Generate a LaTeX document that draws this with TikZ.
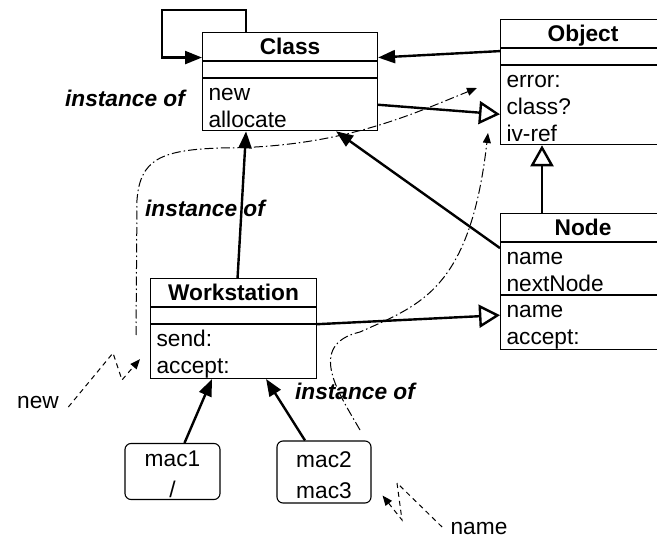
\documentclass[tikz,border=0pt]{standalone}
\usepackage{fontspec}
\setmainfont{Liberation Sans}
\usetikzlibrary{positioning,arrows.meta}

\newcommand\umlfont{\fontsize{22.7pt}{27pt}\selectfont}
\newcommand\umlstrut{\rule[-3pt]{0pt}{24pt}}
\newcommand\macstrut{\rule[-2pt]{0pt}{25pt}}

\tikzset{
    classhead/.style={draw, line width=1.1pt, font=\umlfont\bfseries, align=center, inner xsep=0pt, inner ysep=3pt, text height=19pt, text depth=3pt},
    classattr/.style={draw, line width=1.1pt, minimum height=16pt, inner sep=0pt},
    classops/.style={draw, line width=1.1pt, font=\umlfont, align=left, inner xsep=6pt, inner ysep=0.5pt},
    macbox/.style={draw, line width=1.1pt, rounded corners=6pt, font=\fontsize{22.7pt}{31pt}\selectfont, align=center, minimum width=95pt, inner ysep=0pt},
    instlabel/.style={font=\umlfont\bfseries\itshape, anchor=base},
    plainlabel/.style={font=\umlfont, anchor=base},
    assoc/.style={line width=2.4pt, -{Triangle[length=17pt,width=13pt]}},
    inherit/.style={line width=2.4pt, -{Triangle[open,length=21pt,width=23pt]}},
    instarrow/.style={line width=1pt, dash pattern=on 9pt off 3pt on 1.5pt off 3pt, -{Triangle[length=10pt,width=8pt]}},
    hint/.style={line width=1pt, dash pattern=on 5pt off 4pt, -{Triangle[length=10pt,width=8pt]}}
}

\begin{document}
\begin{tikzpicture}[x=1pt, y=-1pt]
    \useasboundingbox (0,0) rectangle (657,540);

    % Class
    \node[classhead, text width=175pt, anchor=north west] (cls) at (202,32) {Class};
    \node[classattr, minimum width=175pt, below=0pt of cls] (clsattr) {};
    \node[classops, text width=163pt, below=0pt of clsattr] (clsops) {\umlstrut new\\allocate\umlstrut};

    % Object
    \node[classhead, text width=165pt, anchor=north west] (obj) at (500,19) {Object};
    \node[classattr, minimum width=165pt, below=0pt of obj] (objattr) {};
    \node[classops, text width=153pt, below=0pt of objattr] (objops) {\umlstrut error:\\class?\\iv-ref\umlstrut};

    % Node
    \node[classhead, text width=165pt, anchor=north west] (nd) at (500,213) {Node};
    \node[classops, text width=153pt, below=0pt of nd] (ndattr) {\umlstrut name\\nextNode\umlstrut};
    \node[classops, text width=153pt, below=0pt of ndattr] (ndops) {\umlstrut name\\accept:\umlstrut};

    % Workstation
    \node[classhead, text width=166pt, anchor=north west] (ws) at (150,278) {Workstation};
    \node[classattr, minimum width=166pt, below=0pt of ws] (wsattr) {};
    \node[classops, text width=154pt, below=0pt of wsattr] (wsops) {\umlstrut send:\\accept:\umlstrut};

    % instances
    \node[macbox] (mac1) at (172.5,471.5) {\macstrut mac1\\/\macstrut};
    \node[macbox, minimum width=94pt, minimum height=62pt] (mac2) at (324,472) {\macstrut mac2\\mac3\macstrut};

    % labels
    \node[instlabel] (inst1) at (125,107) {instance of};
    \node[instlabel] (inst2) at (205,217) {instance of};
    \node[instlabel] (inst3) at (355,400) {instance of};
    \node[plainlabel] (newlbl) at (38,409) {new};
    \node[plainlabel] (namelbl) at (479,534) {name};

    % solid connectors
    \coordinate (loopcorner) at (162,10);
    \draw[assoc] ([xshift=44pt]cls.north west) |- (loopcorner) |- ([yshift=-11pt]cls.west);
    \draw[assoc] ([yshift=-3pt]obj.south west) -- ([yshift=-11pt]cls.east);
    \draw[inherit] (clsops.east) -- ([yshift=-9pt]objops.west);
    \draw[assoc] ([yshift=-6pt]ndattr.north west) -- ([xshift=46pt]clsops.south);
    \draw[inherit] ([xshift=42pt]nd.north west) -- ([xshift=42pt]objops.south west);
    \draw[assoc] ([xshift=4pt]ws.north) -- ([xshift=-44pt]clsops.south);
    \draw[inherit] (wsops.north east) -- ([yshift=-20pt]ndops.north west);
    \draw[assoc] ([xshift=12pt]mac1.north) -- ([xshift=62pt]wsops.south west);
    \draw[assoc] ([xshift=-19pt]mac2.north) -- ([xshift=-51pt]wsops.south east);

    % instance-of curves
    \coordinate (inst1start) at (136,335);
    \coordinate (inst1end) at (477,88);
    \draw[instarrow] (inst1start) -- (137,200) .. controls (140,160) and (160,150) .. (220,148)
        .. controls (340,148) and (410,115) .. (inst1end);
    \coordinate (inst2start) at (360,430);
    \coordinate (inst2end) at (488,133);
    \draw[instarrow] (inst2start) .. controls (340,395) and (305,345) .. (360,332)
        .. controls (420,305) and (470,290) .. (inst2end);

    % message hints
    \draw[hint] ([shift={(6pt,2pt)}]newlbl.base east) -- (113,353) -- (122,380) -- ([shift={(-10pt,-7.5pt)}]wsops.west);
    \draw[hint] ([shift={(-5pt,7pt)}]namelbl.base west) -- (397,483) -- (402,520) -- ([shift={(11pt,8pt)}]mac2.south east);
\end{tikzpicture}
\end{document}
